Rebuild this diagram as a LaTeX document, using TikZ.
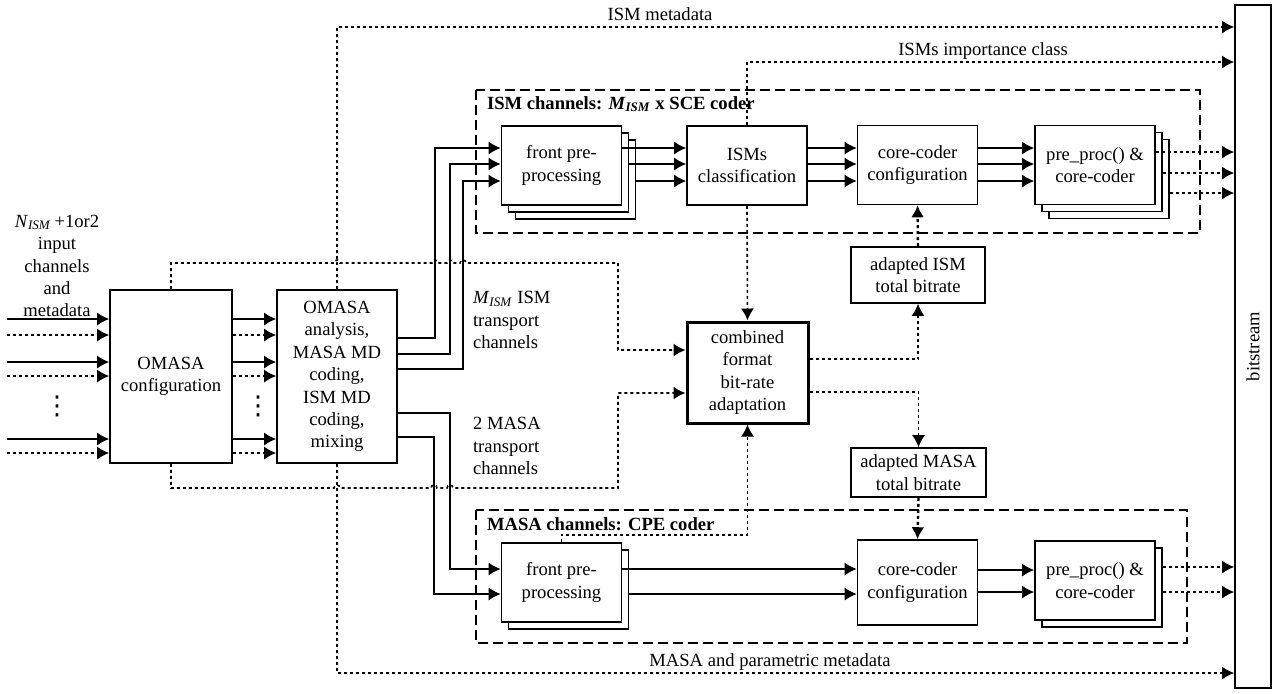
\documentclass[tikz,border=0pt]{standalone}
\usepackage{fontspec}
\setmainfont{Liberation Serif}
\newfontfamily\symfont{DejaVu Sans}
\usetikzlibrary{arrows.meta, calc}

\tikzset{
  blk/.style={draw, line width=0.8pt, fill=white, align=center, inner sep=1pt},
  unit/.style={blk, minimum width=60pt, minimum height=39.5pt},
  stackone/.style={preaction={draw, fill=white, transform canvas={shift={(7,7)}}}},
  stacktwo/.style={preaction={draw, fill=white, transform canvas={shift={(14,14)}}}, stackone},
  arr/.style={line width=0.8pt, -{Latex[length=6pt,width=6.5pt]}},
  dotline/.style={dash pattern=on 1.5pt off 1.5pt},
  grp/.style={line width=0.6pt, dash pattern=on 5pt off 2.5pt},
}

\begin{document}
\begin{tikzpicture}[x=0.5pt, y=-0.5pt, font=\fontsize{9.3pt}{11.2pt}\selectfont]
\useasboundingbox (0,0) rectangle (1273,693);

% coder groups
\draw[grp] (476,90) rectangle (1200,233);
\node[anchor=west, font=\fontsize{9.3pt}{11.2pt}\selectfont\bfseries] (ismgrp) at (480,104)
  {ISM channels: \textit{M}\textsubscript{\textit{ISM}} x SCE coder};
\draw[grp] (476,510) rectangle (1187,643);
\node[anchor=west, font=\fontsize{9.3pt}{11.2pt}\selectfont\bfseries] (masagrp) at (480,524)
  {MASA channels: CPE coder};

% blocks
\node[blk, minimum width=61pt, minimum height=86.5pt] (omasacfg) at (171,376.5) {OMASA\\configuration};
\node[blk, minimum width=60pt, minimum height=86.5pt] (omasaana) at (337,376.5)
  {OMASA\\analysis,\\MASA MD\\coding,\\ISM MD\\coding,\\mixing};
\node[unit, stacktwo] (ismfront) at (561.5,165.5) {front pre-\\processing};
\node[unit] (ismclass) at (747,165.5) {ISMs\\classification};
\node[unit] (ismcore) at (917.5,165) {core-coder\\configuration};
\node[unit, stacktwo] (ismpre) at (1095,165) {pre\_proc() \&\\core-coder};
\node[blk, line width=1.5pt, minimum width=60.5pt, minimum height=50.5pt] (combined) at (747.5,372.5)
  {combined\\format\\bit-rate\\adaptation};
\node[blk, minimum width=67pt, minimum height=28pt] (ismrate) at (918,275) {adapted ISM\\total bitrate};
\node[blk, minimum width=67.5pt, minimum height=24.5pt] (masarate) at (918.5,472.5) {adapted MASA\\total bitrate};
\node[unit, stackone] (masafront) at (561.5,582.5) {front pre-\\processing};
\node[unit, minimum height=42.5pt] (masacore) at (917.5,582.5) {core-coder\\configuration};
\node[unit, stackone] (masapre) at (1095,580.5) {pre\_proc() \&\\core-coder};
\node[draw, line width=0.8pt, minimum width=18pt, minimum height=341.5pt] (bitstream) at (1253,346.5) {};
\node[rotate=90] (bitlbl) at (bitstream.center) {bitstream};

% labels
\node[align=center] (inlbl) at (57,266)
  {\textit{N}\textsubscript{\textit{ISM}}\,+1or2\\input\\channels\\and\\metadata};
\node[font=\symfont\fontsize{13pt}{14pt}\selectfont] (dotsa) at (57,406) {⋮};
\node[font=\symfont\fontsize{13pt}{14pt}\selectfont] (dotsb) at (258,406) {⋮};
\node[anchor=west, align=left] (ismtp) at (466,320)
  {\textit{M}\textsubscript{\textit{ISM}} ISM\\transport\\channels};
\node[anchor=west, align=left] (masatp) at (466,446) {2 MASA\\transport\\channels};
\node (ismmd) at (660,14) {ISM metadata};
\node (ismimp) at (983,51) {ISMs importance class};
\node (masamd) at (770,662) {MASA and parametric metadata};

% inputs
\foreach \i/\y/\s in {1/319/solid,2/335/dotline,3/362/solid,4/376/dotline,5/439/solid,6/453/dotline}{
  \coordinate (in\i) at (7,\y);
  \draw[arr,\s] (in\i) -- (omasacfg.west |- in\i);
  \draw[arr,\s] (omasacfg.east |- in\i) -- (omasaana.west |- in\i);
}

% transport channels
\draw[arr] (omasaana.east |- 0,338) -| (435,148) -- (ismfront.west |- 0,148);
\draw[arr] (omasaana.east |- 0,354) -| (450,164) -- (ismfront.west |- 0,164);
\draw[arr] (omasaana.east |- 0,369) -| (463,181) -- (ismfront.west |- 0,181);
\draw[arr] (omasaana.east |- 0,413) -| (450,569) -- (masafront.west |- 0,569);
\draw[arr] (omasaana.east |- 0,437) -| (434,594) -- (masafront.west |- 0,594);

% ISM chain
\draw[arr] (ismfront.east |- 0,148) -- (ismclass.west |- 0,148);
\draw[arr] ($(ismfront.east |- 0,164)+(7,0)$) -- (ismclass.west |- 0,164);
\draw[arr] ($(ismfront.east |- 0,181)+(14,0)$) -- (ismclass.west |- 0,181);
\foreach \y in {148,164,181}{
  \draw[arr] (ismclass.east |- 0,\y) -- (ismcore.west |- 0,\y);
  \draw[arr] (ismcore.east |- 0,\y) -- (ismpre.west |- 0,\y);
}
\draw[arr,dotline] (ismpre.east |- 0,152) -- (bitstream.west |- 0,152);
\draw[arr,dotline] ($(ismpre.east |- 0,173)+(7,0)$) -- (bitstream.west |- 0,173);
\draw[arr,dotline] ($(ismpre.east |- 0,193)+(14,0)$) -- (bitstream.west |- 0,193);

% MASA chain
\draw[arr] (masafront.east |- 0,569) -- (masacore.west |- 0,569);
\draw[arr] ($(masafront.east |- 0,594)+(7,0)$) -- (masacore.west |- 0,594);
\draw[arr] (masacore.east |- 0,570) -- (masapre.west |- 0,570);
\draw[arr] (masacore.east |- 0,592) -- (masapre.west |- 0,592);
\draw[arr,dotline] ($(masapre.east |- 0,567)+(7,0)$) -- (bitstream.west |- 0,567);
\draw[arr,dotline] ($(masapre.east |- 0,592)+(7,0)$) -- (bitstream.west |- 0,592);

% metadata and control
\draw[arr,dotline] (omasaana.north) -- (omasaana.north |- 0,27) -- (bitstream.west |- 0,27);
\draw[arr,dotline] (omasaana.south) -- (omasaana.south |- 0,673) -- (bitstream.west |- 0,673);
\draw[arr,dotline] (ismclass.north) -- (ismclass.north |- 0,62) -- (bitstream.west |- 0,62);
\draw[arr,dotline] (ismclass.south) -- (combined.north);
\draw[arr,dotline] (omasacfg.north) -- (171,263) -- (334,263) arc(180:360:3) -- (432,263) arc(180:360:3)
  -- (447,263) arc(180:360:3) -- (460,263) arc(180:360:3) -- (618,263) -- (618,350) -- (combined.west |- 0,350);
\draw[arr,dotline] (omasacfg.south) -- (171,488) -- (334,488) arc(180:360:3) -- (431,488) arc(180:360:3)
  -- (447,488) arc(180:360:3) -- (618,488) -- (618,393) -- (combined.west |- 0,393);
\draw[arr,dotline] (masafront.north) -- (masafront.north |- 0,535) -| (combined.south);
\draw[arr,dotline] (combined.east |- 0,359) -| (ismrate.south);
\draw[arr,dotline] (combined.east |- 0,392) -| (masarate.north);
\draw[arr,dotline,line width=1.2pt] (ismrate.north) -- (ismcore.south);
\draw[arr,dotline,line width=1.2pt] (masarate.south) -- (masacore.north);

\end{tikzpicture}
\end{document}
